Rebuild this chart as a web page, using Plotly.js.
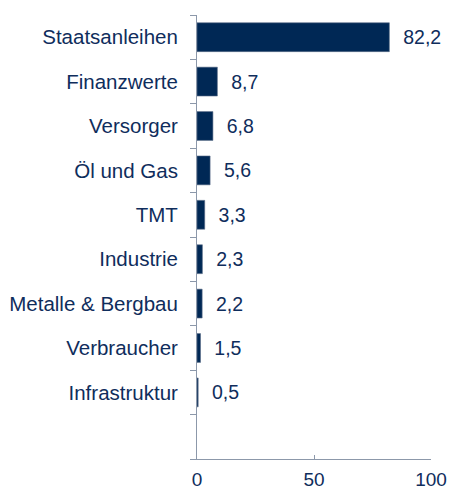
<!DOCTYPE html>
<html>
<head>
<meta charset="utf-8">
<script src="https://cdn.plot.ly/plotly-3.0.1.min.js"></script>
<style>html,body{margin:0;padding:0;background:#fff;}#chart{width:449px;height:490px;}</style>
</head>
<body>
<div id="chart"></div>
<script>
const categories = ["Staatsanleihen", "Finanzwerte", "Versorger", "Öl und Gas", "TMT", "Industrie", "Metalle & Bergbau", "Verbraucher", "Infrastruktur"];
const values = [82.2, 8.7, 6.8, 5.6, 3.3, 2.3, 2.2, 1.5, 0.5];
const xTicks = [0, 50, 100];

const positions = categories.map((c, i) => i);
const navy = "#002855";
const textColor = "#0f2d5c";
const axisColor = "#8c98aa";
const fontFam = "Liberation Sans, Arial, sans-serif";

const trace = {
  type: "bar",
  orientation: "h",
  x: values,
  y: positions,
  width: 0.65,
  marker: { color: navy, line: { color: "#5a6d88", width: 0.6 } },
  text: values,
  texttemplate: "\u00a0\u00a0%{x:.1f}",
  textposition: "outside",
  constraintext: "none",
  cliponaxis: false,
  textfont: { family: fontFam, size: 19.5, color: textColor },
  hoverinfo: "skip"
};

const layout = {
  width: 449,
  height: 490,
  margin: { l: 197, r: 18, t: 15, b: 31 },
  paper_bgcolor: "#ffffff",
  plot_bgcolor: "#ffffff",
  separators: ",.",
  showlegend: false,
  font: { family: fontFam, size: 19, color: textColor },
  xaxis: {
    range: [0, 100],
    tickvals: xTicks,
    ticktext: xTicks.map(String),
    ticks: "inside",
    ticklen: 4,
    tickcolor: axisColor,
    showline: true,
    linecolor: axisColor,
    linewidth: 1,
    showgrid: false,
    zeroline: false,
    ticklabelstandoff: 3,
    tickfont: { family: fontFam, size: 19, color: textColor }
  },
  yaxis: {
    range: [categories.length + 0.5, -0.5],
    tickvals: positions,
    ticktext: categories,
    ticks: "",
    showline: true,
    linecolor: axisColor,
    linewidth: 1,
    showgrid: false,
    zeroline: false,
    ticklabelstandoff: 14,
    tickfont: { family: fontFam, size: 20.5, color: textColor },
    minor: { tickmode: "linear", tick0: 0.5, dtick: 1, ticks: "outside", ticklen: 6, tickcolor: axisColor, tickwidth: 1, showgrid: false }
  }
};

Plotly.newPlot("chart", [trace], layout, { displayModeBar: false, staticPlot: true });
</script>
</body>
</html>
